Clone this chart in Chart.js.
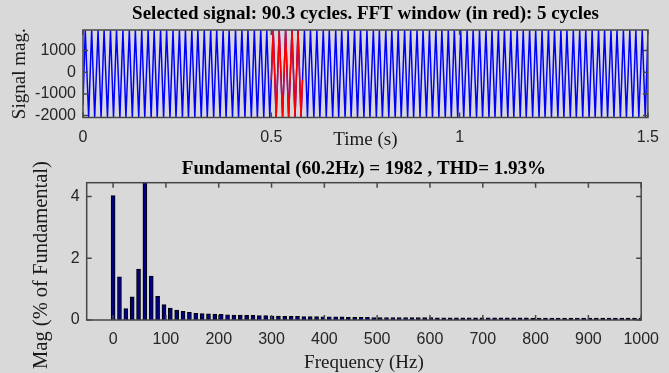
<!DOCTYPE html>
<html>
<head>
<meta charset="utf-8">
<script src="https://cdn.jsdelivr.net/npm/chart.js@4.4.1/dist/chart.umd.min.js"></script>
<style>
  html, body { margin: 0; padding: 0; background: #d9d9d9; }
  body { width: 669px; height: 373px; position: relative; overflow: hidden; }
  canvas { position: absolute; left: 0; }
  #sigChart { top: 0; }
  #fftChart { top: 150px; }
</style>
</head>
<body>
<canvas id="sigChart" width="669" height="150"></canvas>
<canvas id="fftChart" width="669" height="223"></canvas>
<script>
// signal peaks / troughs (time in s)
const sigT = [0,
  0.006, 0.015, 0.023, 0.031, 0.040, 0.048, 0.056, 0.065, 0.073,
  0.081, 0.089, 0.098, 0.106, 0.114, 0.123, 0.131, 0.139, 0.148, 0.156,
  0.164, 0.173, 0.181, 0.189, 0.197, 0.206, 0.214, 0.222, 0.231, 0.239,
  0.247, 0.256, 0.264, 0.272, 0.280, 0.289, 0.297, 0.305, 0.314, 0.322,
  0.330, 0.339, 0.347, 0.355, 0.364, 0.372, 0.380, 0.388, 0.397, 0.405,
  0.413, 0.422, 0.430, 0.438, 0.447, 0.455, 0.463, 0.472, 0.480, 0.488,
  0.496, 0.505, 0.513, 0.521, 0.530, 0.538, 0.546, 0.555, 0.563, 0.571,
  0.579, 0.588, 0.596, 0.604, 0.613, 0.621, 0.629, 0.638, 0.646, 0.654,
  0.663, 0.671, 0.679, 0.687, 0.696, 0.704, 0.712, 0.721, 0.729, 0.737,
  0.746, 0.754, 0.762, 0.771, 0.779, 0.787, 0.795, 0.804, 0.812, 0.820,
  0.829, 0.837, 0.845, 0.854, 0.862, 0.870, 0.878, 0.887, 0.895, 0.903,
  0.912, 0.920, 0.928, 0.937, 0.945, 0.953, 0.962, 0.970, 0.978, 0.986,
  0.995, 1.003, 1.011, 1.020, 1.028, 1.036, 1.045, 1.053, 1.061, 1.070,
  1.078, 1.086, 1.094, 1.103, 1.111, 1.119, 1.128, 1.136, 1.144, 1.153,
  1.161, 1.169, 1.177, 1.186, 1.194, 1.202, 1.211, 1.219, 1.227, 1.236,
  1.244, 1.252, 1.261, 1.269, 1.277, 1.285, 1.294, 1.302, 1.310, 1.319,
  1.327, 1.335, 1.344, 1.352, 1.360, 1.369, 1.377, 1.385, 1.393, 1.402,
  1.410, 1.418, 1.427, 1.435, 1.443, 1.452, 1.460, 1.468, 1.476, 1.485,
  1.493, 1.5];
const sigV = [-1500,
  1940, -2080, 1940, -2080, 1940, -2080, 1940, -2080, 1940,
  -2080, 1940, -2080, 1940, -2080, 1940, -2080, 1940, -2080, 1940,
  -2080, 1940, -2080, 1940, -2080, 1940, -2080, 1940, -2080, 1940,
  -2080, 1940, -2080, 1940, -2080, 1940, -2080, 1940, -2080, 1940,
  -2080, 1940, -2080, 1940, -2080, 1940, -2080, 1940, -2080, 1940,
  -2080, 1940, -2080, 1940, -2080, 1940, -2080, 1940, -2080, 1940,
  -2080, 1940, -2080, 1940, -2080, 1940, -2080, 1940, -2080, 1940,
  -2080, 1940, -2080, 1940, -2080, 1940, -2080, 1940, -2080, 1940,
  -2080, 1940, -2080, 1940, -2080, 1940, -2080, 1940, -2080, 1940,
  -2080, 1940, -2080, 1940, -2080, 1940, -2080, 1940, -2080, 1940,
  -2080, 1940, -2080, 1940, -2080, 1940, -2080, 1940, -2080, 1940,
  -2080, 1940, -2080, 1940, -2080, 1940, -2080, 1940, -2080, 1940,
  -2080, 1940, -2080, 1940, -2080, 1940, -2080, 1940, -2080, 1940,
  -2080, 1940, -2080, 1940, -2080, 1940, -2080, 1940, -2080, 1940,
  -2080, 1940, -2080, 1940, -2080, 1940, -2080, 1940, -2080, 1940,
  -2080, 1940, -2080, 1940, -2080, 1940, -2080, 1940, -2080, 1940,
  -2080, 1940, -2080, 1940, -2080, 1940, -2080, 1940, -2080, 1940,
  -2080, 1940, -2080, 1940, -2080, 1940, -2080, 1940, -2080, 1940,
  -2080, 1700];

// FFT window (red), 5 cycles
const winT = [0.5, 0.505, 0.513, 0.521, 0.530, 0.538, 0.546, 0.555, 0.563, 0.571, 0.579, 0.583];
const winV = [-350, 1940, -2080, 1940, -2080, 1940, -2080, 1940, -2080, 1940, -2080, -350];

const sigXTicks = [0, 0.5, 1, 1.5];
const sigYTicks = [-2000, -1000, 0, 1000];

// spectrum bins (Hz) and magnitude in % of fundamental
const freqHz = [0, 12.04, 24.08, 36.12, 48.16, 60.2, 72.24, 84.28, 96.32, 108.36,
  120.4, 132.44, 144.48, 156.52, 168.56, 180.6, 192.64, 204.68, 216.72, 228.76,
  240.8, 252.84, 264.88, 276.92, 288.96, 301, 313.04, 325.08, 337.12, 349.16,
  361.2, 373.24, 385.28, 397.32, 409.36, 421.4, 433.44, 445.48, 457.52, 469.56,
  481.6, 493.64, 505.68, 517.72, 529.76, 541.8, 553.84, 565.88, 577.92, 589.96,
  602, 614.04, 626.08, 638.12, 650.16, 662.2, 674.24, 686.28, 698.32, 710.36,
  722.4, 734.44, 746.48, 758.52, 770.56, 782.6, 794.64, 806.68, 818.72, 830.76,
  842.8, 854.84, 866.88, 878.92, 890.96, 903, 915.04, 927.08, 939.12, 951.16,
  963.2, 975.24, 987.28, 999.32];
const magPct = [4.03, 1.40, 0.37, 0.75, 1.65, 100, 1.42, 0.77, 0.50, 0.39,
  0.32, 0.28, 0.25, 0.22, 0.21, 0.20, 0.19, 0.18, 0.17, 0.16,
  0.16, 0.15, 0.15, 0.14, 0.14, 0.13, 0.13, 0.12, 0.12, 0.12,
  0.11, 0.11, 0.11, 0.10, 0.10, 0.10, 0.10, 0.09, 0.09, 0.09,
  0.09, 0.08, 0.08, 0.08, 0.08, 0.08, 0.08, 0.08, 0.08, 0.08,
  0.08, 0.07, 0.07, 0.07, 0.07, 0.07, 0.07, 0.07, 0.07, 0.07,
  0.07, 0.07, 0.07, 0.07, 0.07, 0.07, 0.06, 0.06, 0.06, 0.06,
  0.06, 0.06, 0.06, 0.06, 0.06, 0.06, 0.06, 0.06, 0.06, 0.06,
  0.06, 0.06, 0.06, 0.06];

const fftXTicks = [0, 100, 200, 300, 400, 500, 600, 700, 800, 900, 1000];
const fftYTicks = [0, 2, 4];

const serif = "'Liberation Serif', 'Times New Roman', serif";
Chart.defaults.font.family = "'Liberation Sans', Arial, sans-serif";
Chart.defaults.color = '#262626';

// matlab style box with inward ticks
const boxPlugin = {
  id: 'matlabBox',
  afterDatasetsDraw(chart) {
    const { ctx, chartArea: a } = chart;
    const x = chart.scales.x, y = chart.scales.y;
    ctx.save();
    ctx.strokeStyle = '#474747';
    ctx.lineWidth = 1.5;
    ctx.beginPath();
    x.ticks.forEach(t => {
      const px = x.getPixelForValue(t.value);
      ctx.moveTo(px, a.bottom); ctx.lineTo(px, a.bottom - 5);
      ctx.moveTo(px, a.top); ctx.lineTo(px, a.top + 5);
    });
    y.ticks.forEach(t => {
      const py = y.getPixelForValue(t.value);
      ctx.moveTo(a.left, py); ctx.lineTo(a.left + 5, py);
      ctx.moveTo(a.right, py); ctx.lineTo(a.right - 5, py);
    });
    ctx.stroke();
    ctx.strokeRect(a.left, a.top, a.right - a.left, a.bottom - a.top);
    ctx.restore();
  }
};

// y label that matlab puts a bit lower than the axis middle
const yLabelPlugin = {
  id: 'yLabel',
  afterDraw(chart, args, opts) {
    if (!opts.text) return;
    const ctx = chart.ctx;
    ctx.save();
    ctx.translate(opts.x, opts.y);
    ctx.rotate(-Math.PI / 2);
    ctx.font = opts.font;
    ctx.fillStyle = '#1a1a1a';
    ctx.textAlign = 'center';
    ctx.textBaseline = 'middle';
    ctx.fillText(opts.text, 0, 0);
    ctx.restore();
  }
};

function fixedTicks(list) {
  return s => { s.ticks = list.map(v => ({ value: v })); };
}

new Chart(document.getElementById('sigChart'), {
  type: 'line',
  data: {
    datasets: [{
      data: sigT.map((t, i) => ({ x: t, y: sigV[i] })),
      borderColor: '#0000ff',
      borderWidth: 1.5,
      pointRadius: 0,
      tension: 0,
      order: 2
    }, {
      data: winT.map((t, i) => ({ x: t, y: winV[i] })),
      borderColor: '#ff0000',
      borderWidth: 1.5,
      pointRadius: 0,
      tension: 0,
      order: 1
    }]
  },
  options: {
    responsive: false,
    animation: false,
    layout: { padding: { left: 0, right: 16, top: 0, bottom: 0 } },
    plugins: {
      legend: { display: false },
      tooltip: { enabled: false },
      title: {
        display: true,
        fullSize: false,
        text: 'Selected signal: 90.3 cycles. FFT window (in red): 5 cycles',
        color: '#000',
        font: { family: serif, size: 19, weight: 'bold', lineHeight: 1 },
        padding: { top: 5, bottom: 6 }
      }
    },
    scales: {
      x: {
        type: 'linear', min: 0, max: 1.5,
        grid: { display: false, drawTicks: false },
        border: { display: false },
        afterBuildTicks: fixedTicks(sigXTicks),
        afterFit: s => { s.height = 32.5; },
        ticks: { padding: 10, autoSkip: false, maxRotation: 0, font: { size: 16 }, callback: v => String(v) },
        title: { display: true, text: 'Time (s)', color: '#1a1a1a', font: { family: serif, size: 19, lineHeight: 1 }, padding: { top: 0, bottom: 0 } }
      },
      y: {
        min: -2090, max: 1950,
        grid: { display: false, drawTicks: false },
        border: { display: false },
        afterBuildTicks: fixedTicks(sigYTicks),
        afterFit: s => { s.width = 83; },
        ticks: { padding: 7, font: { size: 16 }, callback: v => String(v) },
        title: { display: true, text: 'Signal mag.', color: '#1a1a1a', font: { family: serif, size: 19, lineHeight: 1 }, padding: { top: 11, bottom: 0 } }
      }
    }
  },
  plugins: [boxPlugin]
});

new Chart(document.getElementById('fftChart'), {
  type: 'bar',
  data: {
    datasets: [{
      data: freqHz.map((f, i) => ({ x: f, y: magPct[i] })),
      backgroundColor: '#000080',
      borderColor: '#000000',
      borderWidth: 1,
      borderSkipped: 'start',
      barThickness: 4,
      clip: 0
    }]
  },
  options: {
    responsive: false,
    animation: false,
    layout: { padding: { left: 0, right: 23.3, top: 0, bottom: 0 } },
    plugins: {
      legend: { display: false },
      tooltip: { enabled: false },
      title: {
        display: true,
        fullSize: false,
        text: 'Fundamental (60.2Hz) = 1982 , THD= 1.93%',
        color: '#000',
        font: { family: serif, size: 19, weight: 'bold', lineHeight: 1 },
        padding: { top: 10, bottom: 3.7 }
      },
      yLabel: { text: 'Mag (% of Fundamental)', font: "20.5px " + serif, x: 41.5, y: 115 }
    },
    scales: {
      x: {
        type: 'linear', min: -50, max: 1000, offset: false,
        grid: { display: false, drawTicks: false },
        border: { display: false },
        afterBuildTicks: fixedTicks(fftXTicks),
        afterFit: s => { s.height = 53; },
        ticks: { padding: 10, autoSkip: false, maxRotation: 0, font: { size: 16 }, callback: v => String(v) },
        title: { display: true, text: 'Frequency (Hz)', color: '#1a1a1a', font: { family: serif, size: 19, lineHeight: 1 }, padding: { top: 0, bottom: 0 } }
      },
      y: {
        min: 0, max: 4.45,
        grid: { display: false, drawTicks: false },
        border: { display: false },
        afterBuildTicks: fixedTicks(fftYTicks),
        afterFit: s => { s.width = 86.7; },
        ticks: { padding: 7, font: { size: 16 }, callback: v => String(v) }
      }
    }
  },
  plugins: [boxPlugin, yLabelPlugin]
});
</script>
</body>
</html>
